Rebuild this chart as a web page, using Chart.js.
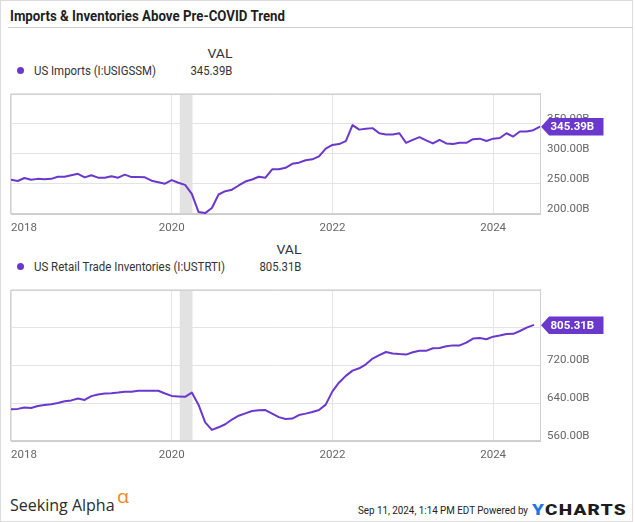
<!DOCTYPE html>
<html><head><meta charset="utf-8">
<script src="https://cdn.jsdelivr.net/npm/chart.js@4.4.1/dist/chart.umd.min.js"></script>
<style>
html,body{margin:0;padding:0;background:#fff;}
body{width:635px;height:522px;position:relative;overflow:hidden;font-family:Roboto,sans-serif;}
#frame{position:absolute;left:0;top:0;width:633px;height:522px;border:1px solid #dcdcdc;box-sizing:border-box;}
#rule{position:absolute;left:8px;top:27px;width:625px;height:1px;background:#cfcfcf;}
.t{position:absolute;white-space:nowrap;line-height:1;}
.dot{position:absolute;width:7px;height:7px;border-radius:50%;}
canvas{position:absolute;left:0;}
</style></head><body>
<div id="frame"></div>
<div id="rule"></div>
<canvas id="c1" width="635" height="160" style="top:80px;width:635px;height:160px"></canvas>
<canvas id="c2" width="635" height="191" style="top:276px;width:635px;height:191px"></canvas>
<script>
// ---- data (month index 0 = Jan 2018) ----
const xTickValues = [0, 24, 48, 72];
const xTickLabels = ['2018', '2020', '2022', '2024'];
const xMax = 79;
const importsTicks = [200, 250, 300, 350, 400];
const inventoryTicks = [560, 640, 720, 800, 880];
const recession = [25.2, 27.1];

const imports = [
  257, 255, 260, 257, 258.5, 258, 258.5, 262, 262, 264.5, 267, 261,
  264.5, 260.5, 260.5, 263, 260.5, 265.5, 261.5, 261.5, 261, 255.5, 253, 250.5,
  256.5, 252, 248.5, 233.5, 203.5, 201.5, 210, 232.5, 238, 240.5, 247.5, 254,
  257.5, 262, 260.5, 274.5, 274.5, 277, 283.5, 285.5, 289.5, 291, 296, 309,
  315, 316.5, 321.5, 348, 340.5, 342, 343, 334.5, 332.5, 332.5, 334.5, 318.5,
  323.5, 328, 322.5, 317.5, 323.5, 317.5, 316.5, 318.5, 318.5, 324.5, 325.5, 321.5,
  325.5, 326.5, 334.5, 329, 337.5, 337.5, 339.5, 345.39
];
const inventories = [
  627, 628, 631, 630, 634, 636, 638, 640.5, 644, 646, 650, 647,
  655, 658.5, 660.5, 661, 662.5, 664.5, 664.5, 666.5, 666.5, 666.5, 666.5, 660.5,
  655.5, 654.5, 653.5, 662.5, 637, 599.5, 583.5, 589, 595.5, 605.5, 613.5, 618.5,
  623.5, 625, 625.5, 618, 610.5, 606.5, 607.5, 615, 618, 621.5, 625.5, 637,
  665, 684, 698, 709, 714, 722.5, 734.5, 742, 748.5, 745.5, 744, 743,
  748, 751, 751, 756.5, 757, 760.5, 762.5, 762.5, 768.5, 777, 778, 775.5,
  781, 783.5, 786.5, 787, 793, 800, 805.31
];

const PURPLE = '#6a38cc';
const fmtB = v => v.toFixed(2) + 'B';

Chart.defaults.font.family = 'Roboto';
Chart.defaults.font.size = 11.5;
Chart.defaults.color = '#666';

const decor = {
  id: 'decor',
  beforeDatasetsDraw(chart) {
    const {ctx, chartArea: a, scales: {x}} = chart;
    ctx.save();
    const x0 = x.getPixelForValue(recession[0]), x1 = x.getPixelForValue(recession[1]);
    ctx.fillStyle = '#e2e2e2';
    ctx.fillRect(x0, a.top, x1 - x0, a.bottom - a.top);
    ctx.strokeStyle = '#d2d2d2';
    ctx.lineWidth = 1;
    ctx.strokeRect(Math.round(a.left) - 0.5, Math.round(a.top) + 0.5,
                   Math.round(a.right - a.left) + 1, Math.round(a.bottom - a.top) - 1);
    ctx.restore();
  },
  afterDraw(chart) {
    const {ctx, chartArea: a, scales: {y}} = chart;
    const vals = chart.data.datasets[0].data;
    const last = vals[vals.length - 1].y;
    const py = y.getPixelForValue(last);
    const tx = a.right + 1, h = 17.5;
    ctx.save();
    ctx.fillStyle = PURPLE;
    ctx.beginPath();
    ctx.moveTo(tx, py);
    ctx.lineTo(tx + 8, py - h / 2);
    ctx.lineTo(tx + 62.5, py - h / 2);
    ctx.lineTo(tx + 62.5, py + h / 2);
    ctx.lineTo(tx + 8, py + h / 2);
    ctx.closePath();
    ctx.fill();
    ctx.fillStyle = '#fff';
    ctx.font = 'bold 11.5px Roboto';
    ctx.textBaseline = 'middle';
    ctx.textAlign = 'left';
    ctx.fillText(fmtB(last), tx + 9.5, py + 0.5);
    ctx.restore();
  }
};

function makeChart(id, values, yTicks, padTop) {
  const yMin = yTicks[0], yMax = yTicks[yTicks.length - 1];
  return new Chart(document.getElementById(id), {
    type: 'line',
    data: {datasets: [{
      data: values.map((v, i) => ({x: i, y: v})),
      borderColor: PURPLE, borderWidth: 2, pointRadius: 0, tension: 0,
      borderJoinStyle: 'round', borderCapStyle: 'round'
    }]},
    options: {
      responsive: false, animation: false, devicePixelRatio: 1,
      layout: {padding: {left: 11, top: padTop, right: 0, bottom: 0}},
      plugins: {legend: {display: false}, tooltip: {enabled: false}},
      scales: {
        x: {
          type: 'linear', min: 0, max: xMax,
          afterBuildTicks: s => { s.ticks = xTickValues.concat([xMax]).map(v => ({value: v})); },
          afterFit: s => { s.height = 26; },
          grid: {color: '#e4e4e4', drawTicks: false},
          border: {color: '#cccccc'},
          ticks: {
            autoSkip: false, maxRotation: 0, padding: 7, align: 'inner', color: '#666',
            callback: v => { const i = xTickValues.indexOf(v); return i >= 0 ? xTickLabels[i] : ''; }
          }
        },
        y: {
          position: 'right', min: yMin, max: yMax,
          afterBuildTicks: s => { s.ticks = yTicks.map(v => ({value: v})); },
          afterFit: s => { s.width = 95; },
          grid: {color: '#e4e4e4', drawTicks: false},
          border: {color: '#cccccc'},
          ticks: {
            padding: 7, labelOffset: -5, color: '#666',
            callback: v => v === yMax ? '' : fmtB(v)
          }
        }
      }
    },
    plugins: [decor]
  });
}

makeChart('c1', imports, importsTicks, 8);
makeChart('c2', inventories, inventoryTicks, 9);

// ---- HTML text ----
function addText(html, o) {
  const el = document.createElement('div');
  el.className = 't';
  el.innerHTML = html;
  el.style.font = o.font;
  el.style.color = o.color || '#333';
  if (o.ls) el.style.letterSpacing = o.ls;
  document.body.appendChild(el);
  const r = el.getBoundingClientRect();
  const s = o.w ? o.w / r.width : 1;
  el.style.top = (o.y - r.height / 2) + 'px';
  if (o.align === 'right') {
    el.style.left = (o.x - r.width) + 'px';
    el.style.transformOrigin = 'right center';
  } else {
    el.style.left = o.x + 'px';
    el.style.transformOrigin = 'left center';
  }
  el.style.transform = 'scaleX(' + s + ')';
  return el;
}
function addDot(x, y) {
  const d = document.createElement('div');
  d.className = 'dot';
  d.style.background = PURPLE;
  d.style.left = (x - 3.5) + 'px';
  d.style.top = (y - 3.5) + 'px';
  document.body.appendChild(d);
}

addText('Imports &amp; Inventories Above Pre-COVID Trend', {x: 10, y: 16, w: 275, font: 'bold 14px Roboto', color: '#1f1f1f'});

addText('VAL', {x: 232, y: 53.5, w: 25, align: 'right', font: '12px Roboto', color: '#333'});
addDot(20, 70.8);
addText('US Imports (I:USIGSSM)', {x: 34, y: 70.8, w: 122, font: '12px Roboto', color: '#333'});
addText(fmtB(imports[imports.length - 1]), {x: 232, y: 70.8, w: 42, align: 'right', font: '12px Roboto', color: '#333'});

addText('VAL', {x: 301, y: 249.5, w: 25, align: 'right', font: '12px Roboto', color: '#333'});
addDot(20.5, 266.5);
addText('US Retail Trade Inventories (I:USTRTI)', {x: 34.3, y: 266.5, w: 191, font: '12px Roboto', color: '#333'});
addText(fmtB(inventories[inventories.length - 1]), {x: 301, y: 266.5, w: 42, align: 'right', font: '12px Roboto', color: '#333'});

addText('Seeking Alpha', {x: 10, y: 504, w: 104.6, font: '17px "Open Sans"', color: '#2b2b2b'});
addText('α', {x: 117, y: 496, w: 12, font: '18px "Open Sans"', color: '#f0861e'});
addText('Sep 11, 2024, 1:14 PM EDT Powered by', {x: 358.4, y: 510, w: 170, font: '11.5px Roboto', color: '#222'});
addText('<span style="color:#1f78de">Y</span>CHARTS', {x: 531.6, y: 510, w: 95, font: '900 15px Roboto', color: '#1c1c1c', ls: '1px'});
</script>
</body></html>
